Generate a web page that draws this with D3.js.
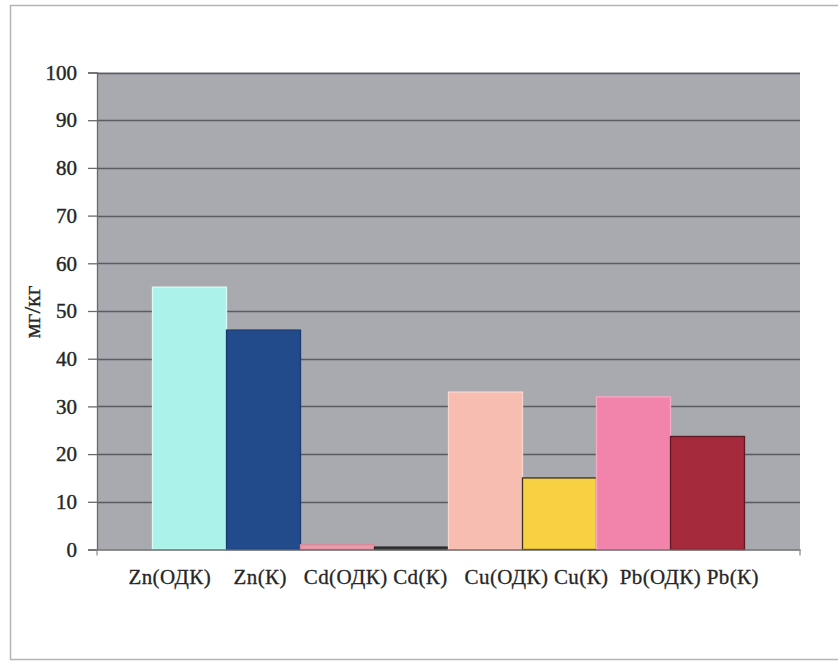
<!DOCTYPE html>
<html>
<head>
<meta charset="utf-8">
<script src="https://cdn.jsdelivr.net/npm/d3@7"></script>
<style>
  html, body { margin: 0; padding: 0; background: #fff; }
  svg { display: block; }
  svg text { font-family: "Liberation Serif", "Times New Roman", "DejaVu Serif", serif; }
</style>
</head>
<body>
<svg id="chart" width="838" height="663"></svg>
<script>
// Heavy-metal content in soil, mg/kg: permissible level (ОДК) vs. measured (К)
const categories = ["Zn(ОДК)", "Zn(К)", "Cd(ОДК)", "Cd(К)", "Cu(ОДК)", "Cu(К)", "Pb(ОДК)", "Pb(К)"];
const values     = [55, 46, 1, 0.5, 33, 15, 32, 23.7];
const fills      = ["#aaf2ea", "#224b8c", "#e99aab", "#3a3a3a", "#f8bdb1", "#f7d142", "#f283ab", "#a52a3b"];
const strokes    = ["#d8fbf6", "#1a3a70", "#d98a9a", "#222222", "#fbd6cf", "#3a3020", "#f7a9c6", "#5c1a22"];
const yTicks     = [0, 10, 20, 30, 40, 50, 60, 70, 80, 90, 100];
const yTitle     = "мг/кг";
// the single category label under the plot, spaced as in the source chart
const categoryCaption = "Zn(ОДК)    Zn(К)   Cd(ОДК) Cd(К)   Cu(ОДК) Cu(К)  Pb(ОДК) Pb(К)";

const svg = d3.select("#chart");
const plot = { left: 97, right: 800, top: 72.5, bottom: 549.5 };
const textColor = "#262626";

// outer frame of the chart
svg.append("rect")
  .attr("x", 10.5).attr("y", 5.5)
  .attr("width", 840).attr("height", 654)
  .attr("fill", "#fff")
  .attr("stroke", "#b4b4b4").attr("stroke-width", 1.5);

const y = d3.scaleLinear().domain([0, 100]).range([plot.bottom, plot.top]);
const x = d3.scaleBand().domain(categories)
  .range([plot.left, plot.right]).paddingInner(0).paddingOuter(0.75);

// plot background
svg.append("rect")
  .attr("x", plot.left).attr("y", plot.top)
  .attr("width", plot.right - plot.left).attr("height", plot.bottom - plot.top)
  .attr("fill", "#a9a9b0");

// gridlines
svg.append("g")
  .selectAll("line")
  .data(yTicks.filter(d => d > 0))
  .join("line")
  .attr("x1", plot.left).attr("x2", plot.right)
  .attr("y1", d => Math.round(y(d)) + 0.5).attr("y2", d => Math.round(y(d)) + 0.5)
  .attr("stroke", "#5a5a60").attr("stroke-width", 1.7);

// bars
svg.append("g")
  .selectAll("rect")
  .data(categories)
  .join("rect")
  .attr("x", d => x(d))
  .attr("y", (d, i) => y(values[i]))
  .attr("width", x.bandwidth())
  .attr("height", (d, i) => y(0) - y(values[i]))
  .attr("fill", (d, i) => fills[i])
  .attr("stroke", (d, i) => strokes[i])
  .attr("stroke-width", 1.3);

// value axis
const yAxis = d3.axisLeft(y).tickValues(yTicks).tickSize(9).tickPadding(11).tickFormat(d3.format("d"));
const gy = svg.append("g").attr("transform", `translate(${plot.left},0)`).call(yAxis);
gy.attr("font-family", null);
gy.select(".domain").attr("stroke", "#6a6a6a").attr("stroke-width", 1.3);
gy.selectAll(".tick line").attr("stroke", "#6a6a6a").attr("stroke-width", 1.3);
gy.selectAll(".tick text")
  .attr("font-size", 21).attr("fill", textColor)
  .attr("stroke", textColor).attr("stroke-width", 0.4);

// category axis: one category spanning the whole plot, ticks at both ends
const xOuter = d3.scaleBand().domain(["all"]).range([plot.left, plot.right]);
const xAxis = d3.axisBottom(xOuter).tickSize(0).tickFormat(() => "");
const gx = svg.append("g").attr("transform", `translate(0,${plot.bottom})`).call(xAxis);
gx.select(".domain").attr("stroke", "#6a6a6a").attr("stroke-width", 1.3);
gx.selectAll(".edge")
  .data(xOuter.range())
  .join("line")
  .attr("class", "edge")
  .attr("x1", d => d).attr("x2", d => d)
  .attr("y1", 0).attr("y2", 6)
  .attr("stroke", "#8a8a8a").attr("stroke-width", 1.2);

svg.append("text")
  .attr("x", (plot.left + plot.right) / 2 - 5)
  .attr("y", 584)
  .attr("text-anchor", "middle")
  .attr("font-size", 21).attr("fill", textColor)
  .attr("stroke", textColor).attr("stroke-width", 0.3)
  .attr("textLength", 630).attr("lengthAdjust", "spacing")
  .style("white-space", "pre")
  .text(categoryCaption);

// value axis title
svg.append("text")
  .attr("transform", "translate(40,312) rotate(-90)")
  .attr("text-anchor", "middle")
  .attr("font-size", 24).attr("fill", textColor)
  .attr("stroke", textColor).attr("stroke-width", 0.3)
  .text(yTitle);
</script>
</body>
</html>
